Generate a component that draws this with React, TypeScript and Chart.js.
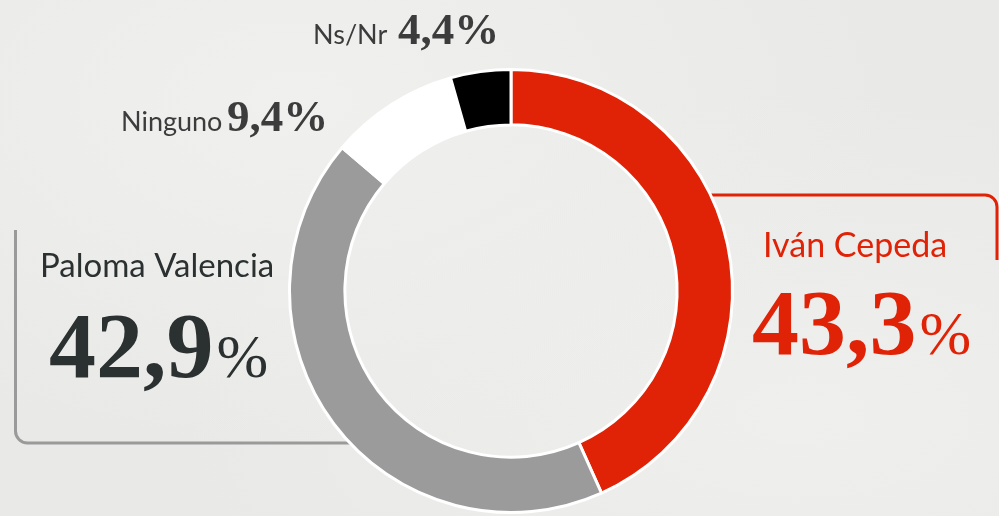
import React, { useEffect, useRef } from "react";
import { Chart, registerables } from "chart.js";

Chart.register(...registerables);

const candidates = ["Iván Cepeda", "Paloma Valencia", "Ninguno", "Ns/Nr"];
const shares = [43.3, 42.9, 9.4, 4.4];
const sliceColors = ["#e02307", "#9b9b9b", "#ffffff", "#000000"];
const labelColors = ["#e02307", "#2b3131", "#3c3c3c", "#3c3c3c"];

const fmt = (v: number) => v.toFixed(1).replace(".", ",");

const SANS = "Lato, 'Open Sans', sans-serif";
const SERIF = "'Liberation Serif', 'DejaVu Serif', serif";

const calloutPlugin = {
  id: "callouts",
  beforeDatasetsDraw(chart: any) {
    const ctx = chart.ctx as CanvasRenderingContext2D;
    ctx.save();
    // red callout (Iván Cepeda)
    ctx.strokeStyle = sliceColors[0];
    ctx.lineWidth = 3;
    ctx.beginPath();
    ctx.moveTo(690, 195);
    ctx.lineTo(985, 195);
    ctx.arcTo(997, 195, 997, 215, 12);
    ctx.lineTo(997, 260);
    ctx.stroke();
    // gray callout (Paloma Valencia)
    ctx.strokeStyle = "#9a9a9a";
    ctx.lineWidth = 3;
    ctx.beginPath();
    ctx.moveTo(15.5, 230);
    ctx.lineTo(15.5, 431);
    ctx.arcTo(15.5, 443, 28, 443, 12);
    ctx.lineTo(370, 443);
    ctx.stroke();
    ctx.restore();
  },
  afterDatasetsDraw(chart: any) {
    const ctx = chart.ctx as CanvasRenderingContext2D;
    ctx.save();
    ctx.textBaseline = "alphabetic";
    ctx.textAlign = "left";

    const big = (name: string, value: number, color: string, nx: number, ny: number, vx: number, vy: number, nameSize: number) => {
      ctx.fillStyle = color;
      ctx.font = `400 ${nameSize}px ${SANS}`;
      ctx.fillText(name, nx, ny);
      const num = fmt(value);
      ctx.font = `700 94px ${SERIF}`;
      ctx.fillText(num, vx, vy);
      const w = ctx.measureText(num).width;
      ctx.font = `400 62px ${SERIF}`;
      ctx.fillText("%", vx + w + 3, vy);
    };
    big(candidates[0], shares[0], labelColors[0], 763, 257, 752, 354, 34);
    big(candidates[1], shares[1], labelColors[1], 40, 277, 49, 377, 33);

    const small = (name: string, value: number, color: string, nx: number, vx: number, y: number) => {
      ctx.fillStyle = color;
      ctx.font = `400 27px ${SANS}`;
      ctx.fillText(name, nx, y);
      ctx.font = `700 45px ${SERIF}`;
      ctx.fillText(fmt(value) + "%", vx, y);
    };
    small(candidates[2], shares[2], labelColors[2], 121, 227, 131);
    small(candidates[3], shares[3], labelColors[3], 313, 398, 44);
    ctx.restore();
  },
};

export default function App() {
  const ref = useRef<HTMLCanvasElement | null>(null);
  useEffect(() => {
    if (!ref.current) return;
    const chart = new Chart(ref.current, {
      type: "doughnut",
      data: {
        labels: candidates,
        datasets: [
          {
            data: shares,
            backgroundColor: sliceColors,
            borderColor: "#ffffff",
            borderWidth: 3,
          },
        ],
      },
      options: {
        responsive: false,
        animation: false,
        devicePixelRatio: 1,
        cutout: "75%",
        rotation: 0,
        circumference: 360,
        layout: { padding: { left: 288, right: 265, top: 68, bottom: 2 } },
        plugins: {
          legend: { display: false },
          tooltip: { enabled: false },
        },
      },
      plugins: [calloutPlugin],
    });
    return () => chart.destroy();
  }, []);
  return (
    <div
      style={{
        position: "fixed",
        left: 0,
        top: 0,
        width: 999,
        height: 516,
        overflow: "hidden",
        background:
          "radial-gradient(ellipse at 30% 20%, #f0f0ef 0%, rgba(240,240,239,0) 60%), radial-gradient(ellipse at 80% 80%, #efefee 0%, rgba(239,239,238,0) 55%), #e9e9e8",
      }}
    >
      <canvas ref={ref} width={999} height={516} style={{ display: "block" }} />
    </div>
  );
}
